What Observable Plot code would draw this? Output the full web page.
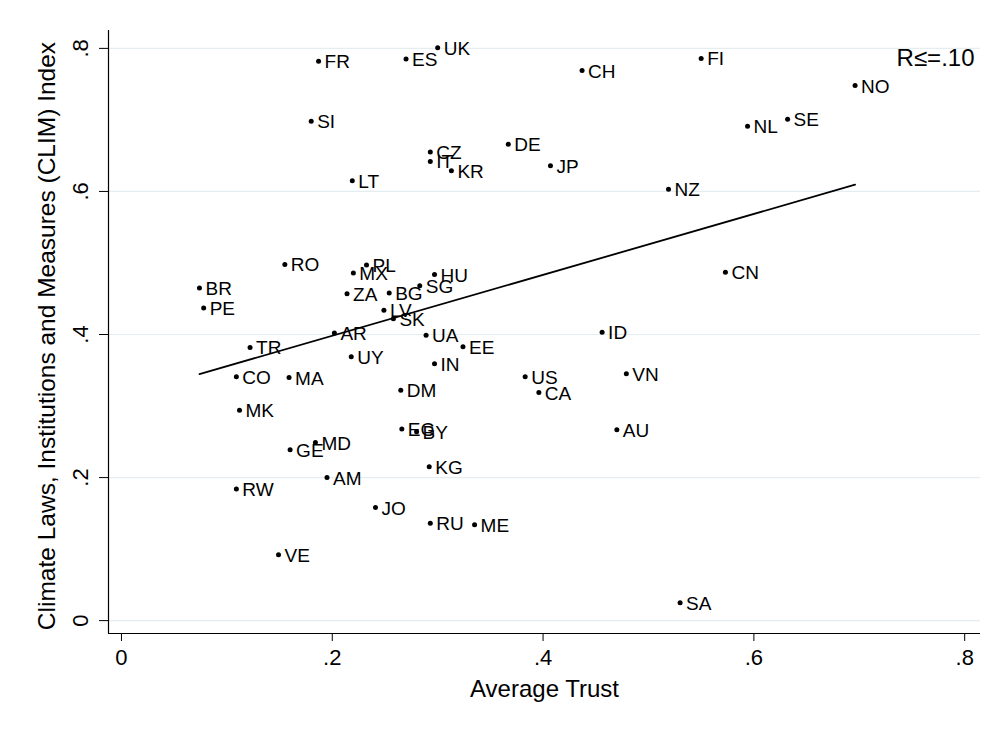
<!DOCTYPE html>
<html>
<head>
<meta charset="utf-8">
<script src="https://cdn.jsdelivr.net/npm/d3@7"></script>
<script src="https://cdn.jsdelivr.net/npm/@observablehq/plot@0.6"></script>
<style>
  body { margin: 0; background: #fff; }
  #chart svg { display: block; }
</style>
</head>
<body>
<div id="chart"></div>
<script>
const countries = ["UK","FR","ES","CH","FI","NO","SI","NL","SE","DE","CZ","IT","KR","JP","LT","NZ",
  "RO","PL","MX","HU","SG","BR","PE","ZA","BG","LV","SK","AR","UA","EE","TR","UY","IN","CN","ID","VN",
  "US","CA","CO","MA","DM","MK","EG","BY","GE","MD","AU","KG","AM","RW","JO","RU","ME","VE","SA"];
const trust = [0.300,0.187,0.270,0.437,0.550,0.696,0.180,0.594,0.632,0.367,0.293,0.293,0.313,0.407,0.219,0.519,
  0.155,0.2325,0.220,0.297,0.283,0.074,0.078,0.214,0.254,0.249,0.258,0.202,0.289,0.324,0.122,0.218,0.297,0.573,0.456,0.479,
  0.383,0.396,0.109,0.159,0.265,0.112,0.266,0.280,0.160,0.184,0.470,0.292,0.195,0.109,0.241,0.293,0.335,0.149,0.530];
const clim = [0.801,0.782,0.785,0.769,0.786,0.748,0.698,0.691,0.701,0.666,0.655,0.642,0.629,0.636,0.615,0.603,
  0.498,0.497,0.486,0.484,0.468,0.465,0.437,0.457,0.458,0.434,0.422,0.402,0.399,0.383,0.382,0.369,0.359,0.487,0.403,0.345,
  0.341,0.319,0.341,0.340,0.322,0.294,0.268,0.264,0.239,0.249,0.267,0.215,0.200,0.184,0.158,0.136,0.134,0.092,0.025];
const xTicks = [0, 0.2, 0.4, 0.6, 0.8];
const yTicks = [0, 0.2, 0.4, 0.6, 0.8];
const xTitle = "Average Trust";
const yTitle = "Climate Laws, Institutions and Measures (CLIM) Index";
const note = "R\u2264=.10";

const data = countries.map((c, i) => ({country: c, trust: trust[i], clim: clim[i]}));
const fmt = d => d === 0 ? "0" : String(d).replace(/^0/, "");
const xDomain = [-0.0123, 0.815];
const yDomain = [-0.018, 0.825];
const font = "'Liberation Sans', Arial, Helvetica, sans-serif";

const chart = Plot.plot({
  width: 997,
  height: 731,
  marginLeft: 108,
  marginRight: 17,
  marginTop: 30,
  marginBottom: 98,
  style: {fontFamily: font, background: "#fff", color: "#000"},
  x: {domain: xDomain},
  y: {domain: yDomain},
  marks: [
    Plot.gridY(yTicks, {stroke: "#e4edf0", strokeOpacity: 1, strokeWidth: 1.2}),
    Plot.ruleX([xDomain[0]], {stroke: "#000", strokeWidth: 1.2}),
    Plot.ruleY([yDomain[0]], {stroke: "#000", strokeWidth: 1.2}),
    Plot.axisX({ticks: xTicks, tickFormat: fmt, tickSize: 8, tickPadding: 8, fontSize: 22, label: null}),
    Plot.axisY({ticks: yTicks, tickFormat: fmt, tickSize: 9, tickPadding: 12, fontSize: 22, tickRotate: -90, label: null}),
    Plot.text([xTitle], {frameAnchor: "bottom", text: d => d, dy: 56, lineAnchor: "middle", fontSize: 24, fill: "#000"}),
    Plot.text([yTitle], {frameAnchor: "left", text: d => d, textAnchor: "middle", lineAnchor: "middle", dx: -61, dy: 4, rotate: -90, fontSize: 24.5, fill: "#000"}),
    Plot.linearRegressionY(data, {x: "trust", y: "clim", ci: 0, stroke: "#000", strokeWidth: 1.8}),
    Plot.dot(data, {x: "trust", y: "clim", r: 2.5, fill: "#000", stroke: "none"}),
    Plot.text(data, {x: "trust", y: "clim", text: "country", textAnchor: "start", dx: 6, dy: 1, fontSize: 19, fill: "#000"}),
    Plot.text([note], {frameAnchor: "top-right", text: d => d, dx: -6, dy: 18, fontSize: 24, fill: "#000"})
  ]
});
document.getElementById("chart").appendChild(chart);
</script>
</body>
</html>
